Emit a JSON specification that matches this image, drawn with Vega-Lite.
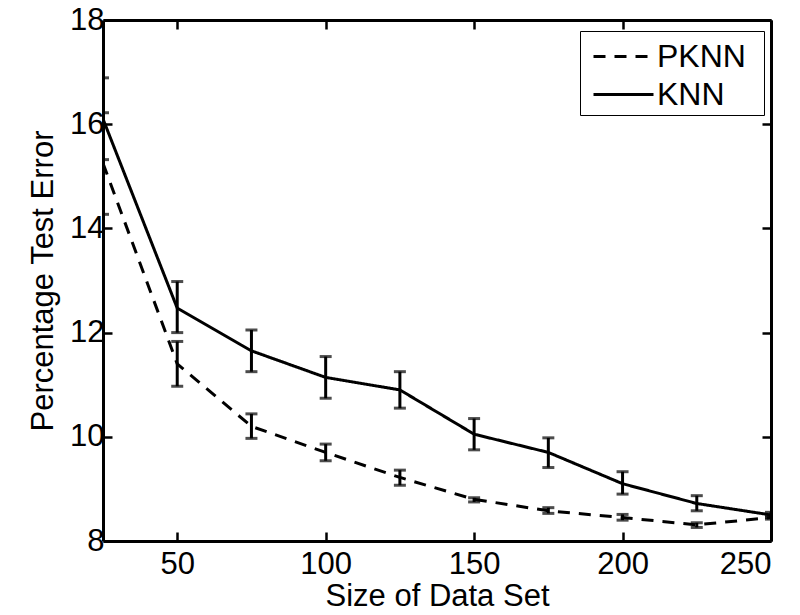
{
  "$schema": "https://vega.github.io/schema/vega-lite/v6.json",
  "width": 668,
  "height": 521,
  "autosize": {"type": "none"},
  "padding": {"left": 103, "top": 20, "right": 29, "bottom": 74},
  "background": "white",
  "config": {
    "view": {"stroke": null},
    "font": "Liberation Sans",
    "axis": {
      "grid": false,
      "domainColor": "black",
      "domainWidth": 3,
      "tickColor": "black",
      "tickWidth": 2.5,
      "tickSize": -9,
      "labelColor": "black",
      "labelFont": "Liberation Sans",
      "labelFontSize": 31,
      "titleFont": "Liberation Sans",
      "titleFontSize": 31,
      "titleFontWeight": "normal",
      "titleColor": "black"
    }
  },
  "data": {
    "values": [
      {"size": 25, "method": "KNN", "err": 16.1, "lo": 15.32, "hi": 16.89},
      {"size": 50, "method": "KNN", "err": 12.47, "lo": 12.0, "hi": 12.98},
      {"size": 75, "method": "KNN", "err": 11.65, "lo": 11.25, "hi": 12.05},
      {"size": 100, "method": "KNN", "err": 11.14, "lo": 10.74, "hi": 11.54},
      {"size": 125, "method": "KNN", "err": 10.9, "lo": 10.55, "hi": 11.25},
      {"size": 150, "method": "KNN", "err": 10.05, "lo": 9.75, "hi": 10.35},
      {"size": 175, "method": "KNN", "err": 9.7, "lo": 9.41, "hi": 9.98},
      {"size": 200, "method": "KNN", "err": 9.1, "lo": 8.9, "hi": 9.33},
      {"size": 225, "method": "KNN", "err": 8.72, "lo": 8.58, "hi": 8.87},
      {"size": 250, "method": "KNN", "err": 8.5, "lo": 8.45, "hi": 8.55},
      {"size": 25, "method": "PKNN", "err": 15.25, "lo": 14.27, "hi": 16.22},
      {"size": 50, "method": "PKNN", "err": 11.4, "lo": 10.97, "hi": 11.83},
      {"size": 75, "method": "PKNN", "err": 10.2, "lo": 9.97, "hi": 10.44},
      {"size": 100, "method": "PKNN", "err": 9.7, "lo": 9.54, "hi": 9.86},
      {"size": 125, "method": "PKNN", "err": 9.22, "lo": 9.07, "hi": 9.36},
      {"size": 150, "method": "PKNN", "err": 8.8, "lo": 8.75, "hi": 8.83},
      {"size": 175, "method": "PKNN", "err": 8.58, "lo": 8.53, "hi": 8.64},
      {"size": 200, "method": "PKNN", "err": 8.45, "lo": 8.4, "hi": 8.51},
      {"size": 225, "method": "PKNN", "err": 8.31, "lo": 8.26, "hi": 8.35},
      {"size": 250, "method": "PKNN", "err": 8.45, "lo": 8.42, "hi": 8.48}
    ]
  },
  "resolve": {"axis": {"x": "independent", "y": "independent"}},
  "layer": [
    {
      "mark": {"type": "line", "color": "black", "strokeWidth": 3, "clip": true},
      "encoding": {
        "x": {"field": "size", "type": "quantitative", "scale": {"domain": [25, 250], "nice": false, "zero": false},
              "axis": {"values": [50, 100, 150, 200, 250], "title": "Size of Data Set", "labelPadding": 17, "titlePadding": 2}},
        "y": {"field": "err", "type": "quantitative", "scale": {"domain": [8, 18], "nice": false, "zero": false},
              "axis": {"values": [8, 10, 12, 14, 16, 18], "title": "Percentage Test Error", "labelPadding": 8, "titlePadding": 10}},
        "strokeDash": {"field": "method", "type": "nominal",
          "scale": {"domain": ["PKNN", "KNN"], "range": [[12, 9], [1, 0]]},
          "legend": {
            "title": "\u00a0", "titleOrient": "right", "titlePadding": 14, "titleFontSize": 8,
            "orient": "none", "legendX": 477, "legendY": 11,
            "symbolType": "M-1.5,0L1.5,0", "symbolSize": 1600, "symbolStrokeWidth": 3,
            "symbolStrokeColor": "black", "symbolFillColor": "transparent",
            "labelFont": "Liberation Sans", "labelFontSize": 32, "labelColor": "black",
            "strokeColor": "black", "fillColor": "white", "padding": 4, "rowPadding": -2,
            "labelOffset": 12, "symbolOffset": 18
          }
        }
      }
    },
    {
      "mark": {"type": "rule", "color": "black", "strokeWidth": 3, "clip": true},
      "encoding": {
        "x": {"field": "size", "type": "quantitative", "axis": null},
        "y": {"field": "lo", "type": "quantitative", "axis": null},
        "y2": {"field": "hi"}
      }
    },
    {
      "mark": {"type": "tick", "orient": "horizontal", "color": "black", "size": 12, "thickness": 3, "clip": true},
      "encoding": {
        "x": {"field": "size", "type": "quantitative", "axis": null},
        "y": {"field": "lo", "type": "quantitative", "axis": null}
      }
    },
    {
      "mark": {"type": "tick", "orient": "horizontal", "color": "black", "size": 12, "thickness": 3, "clip": true},
      "encoding": {
        "x": {"field": "size", "type": "quantitative",
              "axis": {"orient": "top", "values": [50, 100, 150, 200, 250], "labels": false, "title": null}},
        "y": {"field": "hi", "type": "quantitative",
              "axis": {"orient": "right", "values": [8, 10, 12, 14, 16, 18], "labels": false, "title": null}}
      }
    }
  ]
}
